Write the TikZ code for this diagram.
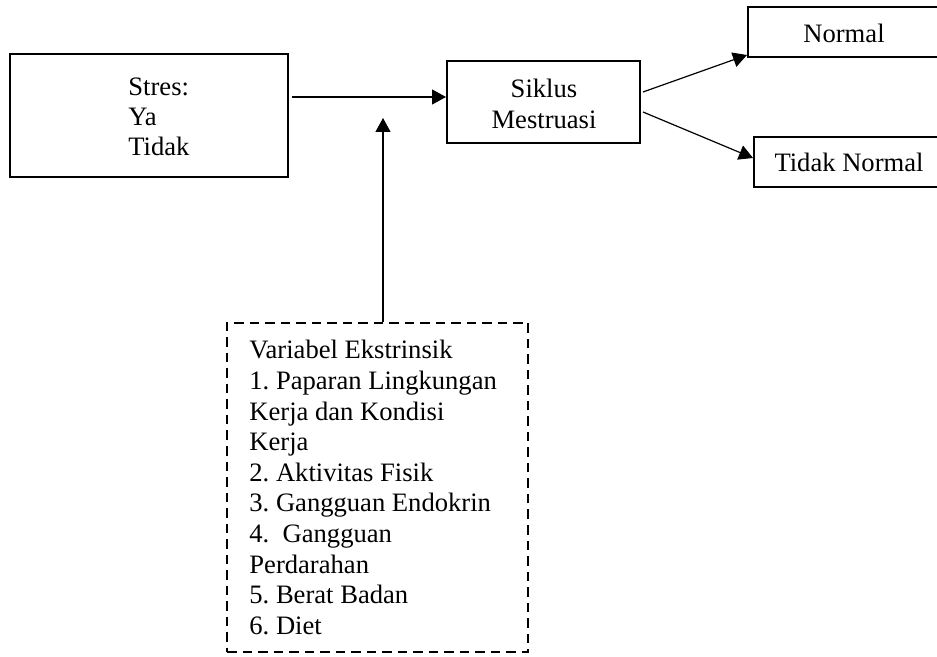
\documentclass[tikz,border=0pt]{standalone}
\usepackage{fontspec}
\setmainfont{Liberation Serif}
\usetikzlibrary{arrows.meta}
\frenchspacing
\tikzset{
  box/.style={draw, line width=1pt, rectangle, inner sep=0pt},
  dbox/.style={draw, line width=1pt, dash pattern=on 4.75pt off 3pt, rectangle, inner sep=0pt},
  txt/.style={inner sep=0pt, font=\fontsize{13.3}{15.3}\selectfont},
  arr/.style={line width=0.6pt, -{Triangle[length=7pt,width=7.5pt]}}
}
\begin{document}
\begin{tikzpicture}[x=0.5pt,y=-0.5pt]
\useasboundingbox (0,0) rectangle (937,657);
\clip (0,0) rectangle (937,657);
% boxes
\node[box, minimum width=139pt, minimum height=61.5pt] (stres) at (149,115.5) {};
\node[box, minimum width=96.5pt, minimum height=41pt] (siklus) at (543.5,102) {};
\node[box, minimum width=101pt, minimum height=25pt] (normal) at (849,32) {};
\node[box, minimum width=98pt, minimum height=25pt] (tidak) at (852,162) {};
\node[dbox, minimum width=150.5pt, minimum height=164.5pt] (ext) at (377.5,487.5) {};
% texts
\node[txt, anchor=north west, align=left, font=\fontsize{13.3}{15}\selectfont] (stresT) at (128,77) {Stres:\\Ya\\Tidak};
\node[txt, anchor=north, align=center, font=\fontsize{13.3}{15.5}\selectfont] (siklusT) at (544,79) {Siklus\\Mestruasi};
\node[txt, anchor=base] (normalT) at (844,43) {Normal};
\node[txt, anchor=base] (tidakT) at (849,172) {Tidak Normal};
\node[txt, anchor=north west, align=left] (extT) at (249,340) {Variabel Ekstrinsik\\1. Paparan Lingkungan\\Kerja dan Kondisi\\Kerja\\2. Aktivitas Fisik\\3. Gangguan Endokrin\\4.\ \ Gangguan\\Perdarahan\\5. Berat Badan\\6. Diet};
% connectors
\coordinate (meet) at (383,118);
\draw[arr] ([xshift=1.5pt]stres.east |- 0,97) -- (siklus.west |- 0,97);
\draw[arr] (ext.north -| meet) -- (meet);
\draw[arr] ([xshift=1pt,yshift=5pt]siklus.east) -- ([yshift=-11.5pt]normal.west);
\draw[arr] ([xshift=1pt,yshift=-5pt]siklus.east) -- ([yshift=2pt]tidak.west);
\end{tikzpicture}
\end{document}
